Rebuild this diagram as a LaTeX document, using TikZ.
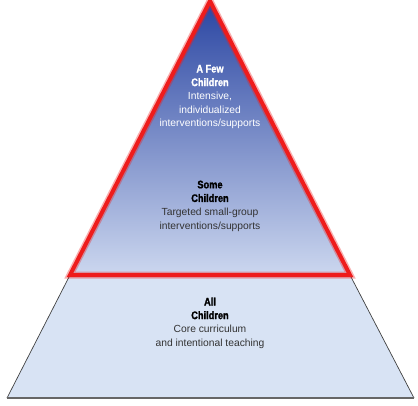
\documentclass[tikz,border=0pt]{standalone}
\usepackage{fontspec}
\setmainfont{Liberation Sans}
\newfontfamily\condsans[FakeStretch=0.84,FakeBold=1.2]{Liberation Sans}
\newcommand{\hdtxt}[1]{{\condsans\bfseries\fontsize{11}{13.6}\selectfont #1}}
\begin{document}
\begin{tikzpicture}[x=1pt,y=-1pt,
  lbl/.style={align=center,inner sep=0pt,font=\fontsize{10.3}{13.6}\selectfont}]
\definecolor{topblue}{HTML}{2A45A2}
\definecolor{midblue}{HTML}{8E9CD8}
\definecolor{lowblue}{HTML}{CCD7EF}
\definecolor{basefill}{HTML}{D8E3F4}
\definecolor{redline}{HTML}{EE1C1C}
\definecolor{txt}{HTML}{333333}
\useasboundingbox (0,0) rectangle (418,405);
\coordinate (apex) at (210,1);
\coordinate (bl) at (7,398);
\coordinate (br) at (414,398);
\coordinate (tl) at (70,275);
\coordinate (tr) at (350,275);
\coordinate (ml) at (69,277);
\coordinate (mr) at (351,277);
% bottom layer
\fill[basefill] (ml) -- (mr) -- (br) -- (bl) -- cycle;
\draw[black!75,line width=0.7pt] (ml) -- (bl);
\draw[black!75,line width=0.7pt] (mr) -- (br);
\draw[black!60,line width=1.8pt] (bl) -- (br);
% upper triangle gradient
\shade[top color=topblue,middle color=midblue,bottom color=lowblue] (apex) -- (tr) -- (tl) -- cycle;
% red outline with glow
\draw[redline,opacity=0.35,line width=7pt,line join=miter] (apex) -- (tr) -- (tl) -- cycle;
\draw[redline,line width=4pt,line join=miter] (apex) -- (tr) -- (tl) -- cycle;
% texts
\node[lbl,text=white] (few) at (210,97) {\hdtxt{A Few}\\\hdtxt{Children}\\Intensive,\\individualized\\interventions/supports};
\node[lbl,text=txt] (some) at (210,206) {\hdtxt{\color{black}Some}\\\hdtxt{\color{black}Children}\\Targeted small-group\\interventions/supports};
\node[lbl,text=txt] (all) at (210,323) {\hdtxt{\color{black}All}\\\hdtxt{\color{black}Children}\\Core curriculum\\and intentional teaching};
\end{tikzpicture}
\end{document}
